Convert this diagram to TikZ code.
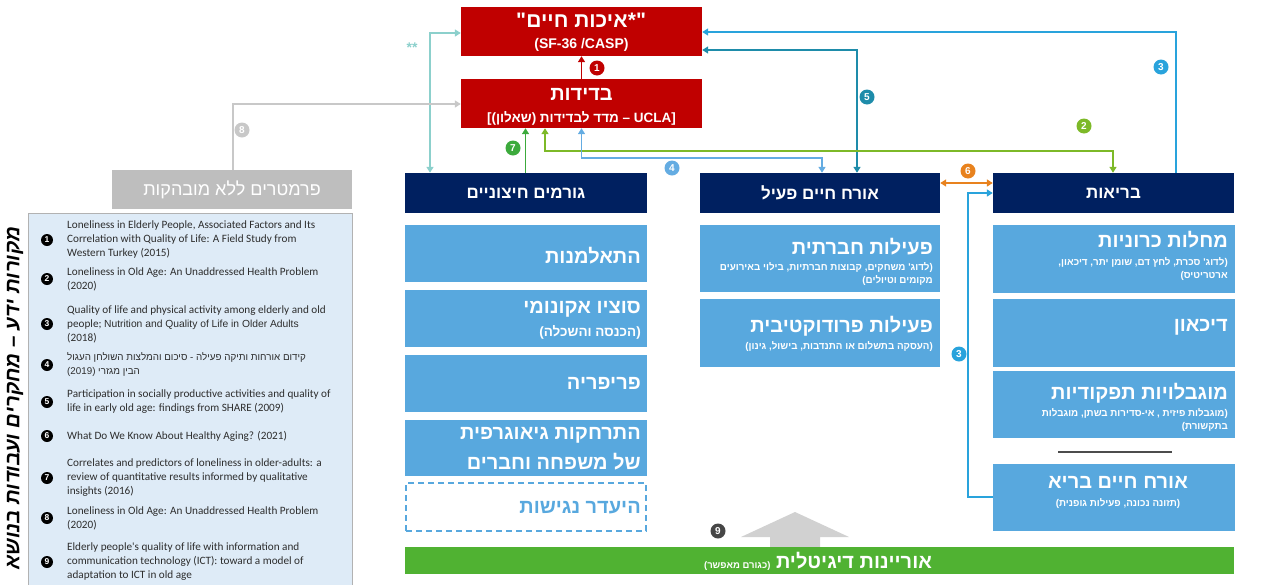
\documentclass[tikz,border=0pt]{standalone}
\usepackage{fontspec}
\setmainfont{Liberation Sans}
\newfontfamily\hebf[Script=Hebrew]{Liberation Sans}
\newfontfamily\reff{Carlito}
\TeXXeTstate=1
\usetikzlibrary{arrows.meta}
\newcommand\heb[1]{{\hebf\beginR#1\endR}}

\definecolor{qred}{RGB}{192,0,0}
\definecolor{navy}{RGB}{0,32,96}
\definecolor{boxblue}{RGB}{88,168,222}
\definecolor{srcfill}{RGB}{222,235,247}
\definecolor{srctext}{RGB}{45,45,45}
\definecolor{bargreen}{RGB}{80,178,50}
\definecolor{cteal}{RGB}{140,208,204}
\definecolor{cgray}{RGB}{200,200,200}
\definecolor{cblue}{RGB}{41,163,220}
\definecolor{cdteal}{RGB}{30,140,170}
\definecolor{cgreen}{RGB}{125,185,40}
\definecolor{clblue}{RGB}{100,172,226}
\definecolor{cgreenb}{RGB}{60,170,60}
\definecolor{corange}{RGB}{232,130,30}
\definecolor{cdgray}{RGB}{70,70,70}

\begin{document}
\begin{tikzpicture}[x=1pt,y=-1pt,
  qbox/.style={fill=qred, inner sep=0, minimum width=241pt, minimum height=49pt},
  hdr/.style={fill=navy, inner sep=0, minimum height=40pt, text=white,
    font=\bfseries\fontsize{17}{20}\selectfont},
  lbox/.style={fill=boxblue, inner sep=0},
  wt/.style={text=white, inner sep=0, font=\bfseries\fontsize{20}{24}\selectfont},
  wsub/.style={text=white, inner sep=0, font=\bfseries\fontsize{9.8}{11}\selectfont},
  qt/.style={text=white, inner sep=0, font=\bfseries\fontsize{21}{24}\selectfont},
  conn/.style={line width=1.8pt},
  arr/.style={-{Triangle[length=6pt,width=7pt]}},
  darr/.style={{Triangle[length=6pt,width=7pt]}-{Triangle[length=6pt,width=7pt]}},
  numc/.style={circle, inner sep=0, minimum size=15pt, text=white,
    font=\bfseries\fontsize{10}{10}\selectfont},
  srcnum/.style={circle, fill=black, inner sep=0, minimum size=12pt, text=white,
    font=\bfseries\fontsize{8.5}{8.5}\selectfont},
  src/.style={align=left, inner sep=0, text=srctext, anchor=west,
    font=\reff\fontsize{11.2}{14}\selectfont}
]
\useasboundingbox (0,0) rectangle (1275,584);

% ---------- outcome boxes ----------
\node[qbox] (qual) at (581.5,31.5) {};
\node[qt] (qtxt) at (577,21) {\heb{איכות חיים}};
\node[qt, anchor=base east] (qopen) at (qtxt.base west) {\hebf\char34};
\node[qt, anchor=base west] (qclose) at (qtxt.base east) {\hebf\char34*};
\node[text=white, inner sep=0, font=\bfseries\fontsize{14}{16}\selectfont] at (581.5,45) {(SF-36 /CASP)};

\node[qbox] (bed) at (581.5,103.5) {};
\node[text=white, inner sep=0, font=\bfseries\fontsize{20}{24}\selectfont] at (581.5,94) {\heb{בדידות}};
\node[text=white, inner sep=0, font=\bfseries\fontsize{13.5}{16}\selectfont] at (581.5,118) {[(\heb{שאלון}) \heb{מדד לבדידות} – UCLA]};

% ---------- parameters without significance ----------
\node[fill=cgray!95!black, inner sep=0, minimum width=240pt, minimum height=39pt,
  text=white, font=\fontsize{18}{20}\selectfont] (par) at (232,189.5) {\heb{פרמטרים ללא מובהקות}};
\node[text=cteal, font=\bfseries\fontsize{14}{14}\selectfont] at (412,48) {**};

% ---------- column headers ----------
\node[hdr, minimum width=242pt] (hL) at (526,193) {\heb{גורמים חיצוניים}};
\node[hdr, minimum width=240pt] (hM) at (820,193) {\heb{אורח חיים פעיל}};
\node[hdr, minimum width=241pt] (hR) at (1113.5,193) {\heb{בריאות}};

% ---------- external factors ----------
\node[lbox, minimum width=242pt, minimum height=57pt] (a1) at (526,253.5) {};
\node[wt, anchor=east] at (641,256) {\heb{התאלמנות}};
\node[lbox, minimum width=242pt, minimum height=57pt] (a2) at (526,318.5) {};
\node[wt, anchor=east] at (641,309) {\heb{סוציו אקונומי}};
\node[wt, anchor=east, font=\bfseries\fontsize{13.5}{16}\selectfont] at (641,332) {(\heb{הכנסה והשכלה})};
\node[lbox, minimum width=242pt, minimum height=57pt] (a3) at (526,383.5) {};
\node[wt, anchor=east] at (641,383) {\heb{פריפריה}};
\node[lbox, minimum width=242pt, minimum height=56pt] (a4) at (526,448) {};
\node[wt, anchor=east] at (641,435) {\heb{התרחקות גיאוגרפית}};
\node[wt, anchor=east] at (641,462) {\heb{של משפחה וחברים}};
\node[draw=boxblue, dashed, dash pattern=on 6pt off 4pt, line width=1.3pt, inner sep=0,
  minimum width=240pt, minimum height=48pt] (a5) at (526,507) {};
\node[wt, text=boxblue, anchor=east] at (641,508) {\heb{היעדר נגישות}};

% ---------- active lifestyle ----------
\node[lbox, minimum width=240pt, minimum height=67pt] (b1) at (820,258.5) {};
\node[wt, anchor=east] at (933,247) {\heb{פעילות חברתית}};
\node[wsub, anchor=east] at (933,268) {\heb{לדוג' משחקים, קבוצות חברתיות, בילוי באירועים})};
\node[wsub, anchor=east] at (933,281) {(\heb{מקומים וטיולים}};
\node[lbox, minimum width=240pt, minimum height=68pt] (b2) at (820,332.5) {};
\node[wt, anchor=east] at (933,326) {\heb{פעילות פרודוקטיבית}};
\node[wsub, anchor=east] at (933,347) {(\heb{העסקה בתשלום או התנדבות, בישול, גינון})};

% ---------- health ----------
\node[lbox, minimum width=242pt, minimum height=68pt] (c1) at (1114,259) {};
\node[wt, anchor=east] at (1228,240) {\heb{מחלות כרוניות}};
\node[wsub, anchor=east] at (1228,263) {\heb{לדוג' סכרת, לחץ דם, שומן יתר, דיכאון,})};
\node[wsub, anchor=east] at (1228,276) {(\heb{ארטריטיס}};
\node[lbox, minimum width=242pt, minimum height=68pt] (c2) at (1114,332.5) {};
\node[wt, anchor=east] at (1228,327) {\heb{דיכאון}};
\node[lbox, minimum width=242pt, minimum height=67pt] (c3) at (1114,404.5) {};
\node[wt, anchor=east] at (1228,393) {\heb{מוגבלויות תפקודיות}};
\node[wsub, anchor=east] at (1228,414) {\heb{מוגבלות פיזית , אי-סדירות בשתן, מוגבלות})};
\node[wsub, anchor=east] at (1228,427) {(\heb{בתקשורת}};
\draw[line width=1.2pt, black!70] (1058,452) -- (1172,452);
\node[lbox, minimum width=242pt, minimum height=67pt] (c4) at (1114,497) {};
\node[wt] at (1118,482) {\heb{אורח חיים בריא}};
\node[wsub] at (1118,504) {(\heb{תזונה נכונה, פעילות גופנית})};

% ---------- digital literacy ----------
\fill[black!18] (770,547) -- (770,537) -- (741,537) -- (795,512) -- (849,537)
  -- (820,537) -- (820,547) -- cycle;
\node[fill=bargreen, inner sep=0, minimum width=829pt, minimum height=27pt] (dig) at (819.5,560.5) {};
\node[text=white, inner sep=0, font=\bfseries\fontsize{20}{22}\selectfont] at (818,561)
  {{\fontsize{9.5}{11}\selectfont(\heb{כגורם מאפשר})} \heb{אוריינות דיגיטלית}};

% ---------- connectors ----------
\draw[conn, qred, arr] (bed.north) -- (qual.south);
\draw[conn, cteal, darr] ([yshift=-1.5pt]qual.west) -| ([xshift=-96pt]hL.north);
\draw[conn, cgray, arr] ([xshift=1pt]par.north) |- ([yshift=-0.5pt]bed.west);
\draw[conn, cblue, arr] ([xshift=62.5pt]hR.north) |- ([yshift=-0.5pt]qual.east);
\draw[conn, cdteal, darr] ([yshift=-18.5pt]qual.east) -| ([xshift=37pt]hM.north);
\draw[conn, cgreen, darr] ([xshift=-36.5pt]bed.south) -- ++(0,23) -| ([xshift=-0.5pt]hR.north);
\draw[conn, clblue, darr] (bed.south) -- ++(0,30) -| ([xshift=2pt]hM.north);
\draw[conn, cgreenb, arr] ([xshift=-0.5pt]hL.north) -- ([xshift=-0.5pt]hL.north |- bed.south);
\draw[conn, corange, darr] ([yshift=10pt]hM.east) -- ([yshift=10pt]hR.west);
\draw[conn, cblue, arr] (c4.west) -- ++(-25,0) |- (hR.west);

% ---------- connector labels ----------
\node[numc, fill=qred] at (597,68) {1};
\node[numc, fill=cgreen] at (1084,126) {2};
\node[numc, fill=cblue] at (1161,67) {3};
\node[numc, fill=cblue] at (959,354) {3};
\node[numc, fill=clblue] at (672,168) {4};
\node[numc, fill=cdteal] at (867,97) {5};
\node[numc, fill=corange] at (968,171) {6};
\node[numc, fill=cgreenb] at (513,148) {7};
\node[numc, fill=cgray] at (242,130) {8};
\node[numc, fill=cdgray] at (718,531) {9};

% ---------- sources ----------
\draw[fill=srcfill, draw=black!30, line width=1pt] (28,213) rectangle (352,600);
\node[rotate=90, inner sep=0, font=\bfseries\itshape\fontsize{20.5}{22}\selectfont] at (15,398)
  {\heb{מקורות ידע – מחקרים ועבודות בנושא}};

\node[srcnum] at (47,240) {1};
\node[src] at (67,240) {Loneliness in Elderly People, Associated Factors and Its\\Correlation with Quality of Life: A Field Study from\\Western Turkey (2015)};
\node[srcnum] at (47,279) {2};
\node[src] at (67,279) {Loneliness in Old Age: An Unaddressed Health Problem\\(2020)};
\node[srcnum] at (47,324) {3};
\node[src] at (67,324) {Quality of life and physical activity among elderly and old\\people; {\rmfamily\fontsize{10.3}{14}\selectfont Nutrition and Quality of Life in Older Adults}\\(2018)};
\node[srcnum] at (47,365) {4};
\node[src, font=\fontsize{9.8}{14}\selectfont] at (67,365) {\heb{קידום אורחות ותיקה פעילה - סיכום והמלצות השולחן העגול}\\(2019) \heb{הבין מגזרי}};
\node[srcnum] at (47,402) {5};
\node[src] at (67,402) {Participation in socially productive activities and quality of\\life in early old age: findings from SHARE (2009)};
\node[srcnum] at (47,436) {6};
\node[src] at (67,436) {What Do We Know About Healthy Aging? (2021)};
\node[srcnum] at (47,478) {7};
\node[src] at (67,478) {Correlates and predictors of loneliness in older-adults: a\\review of quantitative results informed by qualitative\\insights (2016)};
\node[srcnum] at (47,518) {8};
\node[src] at (67,518) {Loneliness in Old Age: An Unaddressed Health Problem\\(2020)};
\node[srcnum] at (47,562) {9};
\node[src] at (67,562) {Elderly people's quality of life with information and\\communication technology (ICT): toward a model of\\adaptation to ICT in old age};
\end{tikzpicture}
\end{document}
